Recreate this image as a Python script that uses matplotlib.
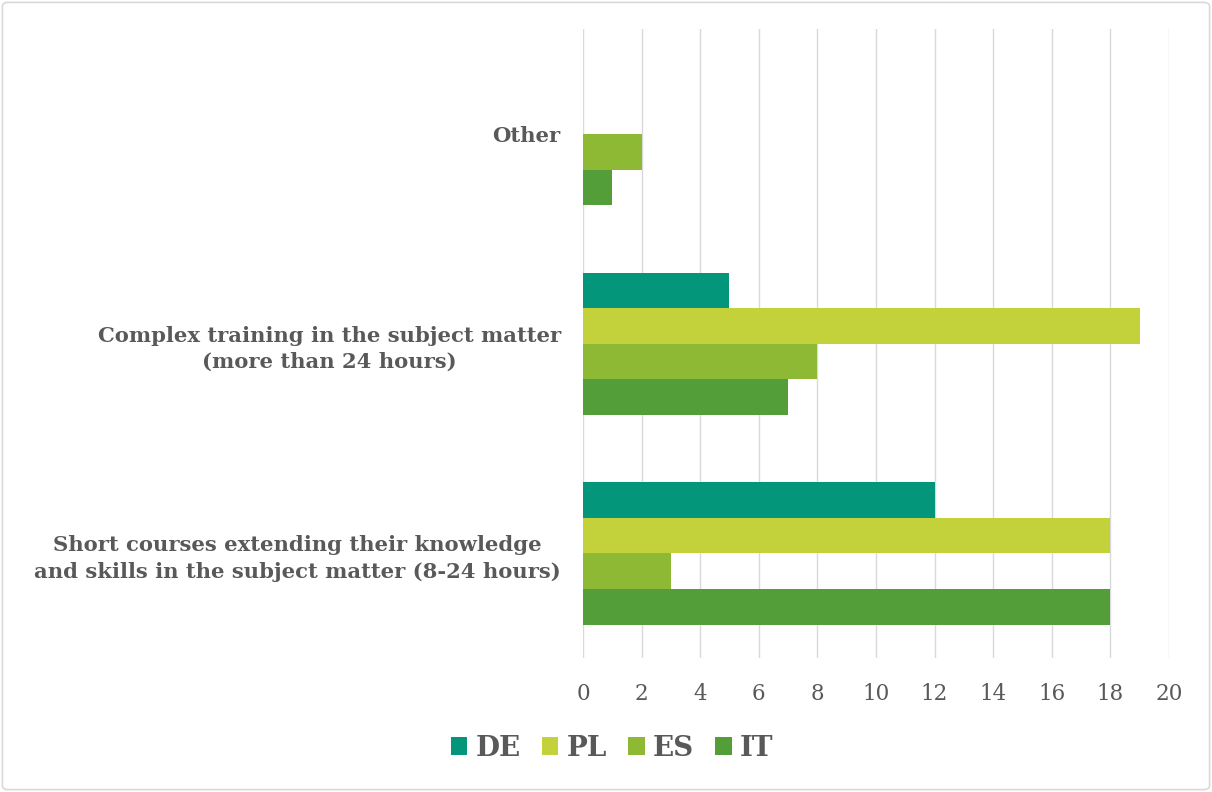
import matplotlib.pyplot as plt
import matplotlib.patches as mpatches
import numpy as np

categories = [
    "Short courses extending their knowledge\nand skills in the subject matter (8-24 hours)",
    "Complex training in the subject matter\n(more than 24 hours)",
    "Other",
]
series = ["DE", "PL", "ES", "IT"]
values = {
    "DE": [12, 5, 0],
    "PL": [18, 19, 0],
    "ES": [3, 8, 2],
    "IT": [18, 7, 1],
}
colors = {
    "DE": "#03967A",
    "PL": "#C3D13B",
    "ES": "#8DB935",
    "IT": "#549E3A",
}

TEXT = "#595959"
plt.rcParams["font.family"] = ["DejaVu Serif"]

fig = plt.figure(figsize=(12.12, 7.92), dpi=100)
ax = fig.add_axes([0.481, 0.169, 0.4835, 0.7938])

bar_h = 0.17
y = np.arange(len(categories))
for i, s in enumerate(series):
    offset = (1.5 - i) * bar_h
    ax.barh(y + offset, values[s], height=bar_h, color=colors[s], label=s, zorder=3)

ax.set_xlim(0, 20)
ax.set_ylim(-0.5, 2.5)
ax.set_xticks(range(0, 21, 2))
ax.set_yticks(y)
ax.set_yticklabels(categories, fontsize=15.2, fontweight="bold", color=TEXT,
                   multialignment="center", linespacing=1.4)
ax.tick_params(axis="x", labelsize=15.5, labelcolor=TEXT, length=0, pad=18)
ax.tick_params(axis="y", length=0, pad=16)
ax.grid(axis="x", color="#D9D9D9", linewidth=1, zorder=0)
for sp in ax.spines.values():
    sp.set_visible(False)

leg = fig.legend(loc="center", bbox_to_anchor=(0.505, 0.055), ncol=4, frameon=False,
                 prop={"size": 20, "weight": "bold"}, handlelength=0.6, handleheight=0.6,
                 handletextpad=0.3, columnspacing=0.75)
for t in leg.get_texts():
    t.set_color(TEXT)

fig.patches.append(mpatches.FancyBboxPatch((0.002, 0.003), 0.996, 0.994,
                                           boxstyle="round,pad=0,rounding_size=0.005",
                                           transform=fig.transFigure, fill=False,
                                           edgecolor="#D9D9D9", linewidth=1.2))

fig.savefig("out.png", dpi=100)
